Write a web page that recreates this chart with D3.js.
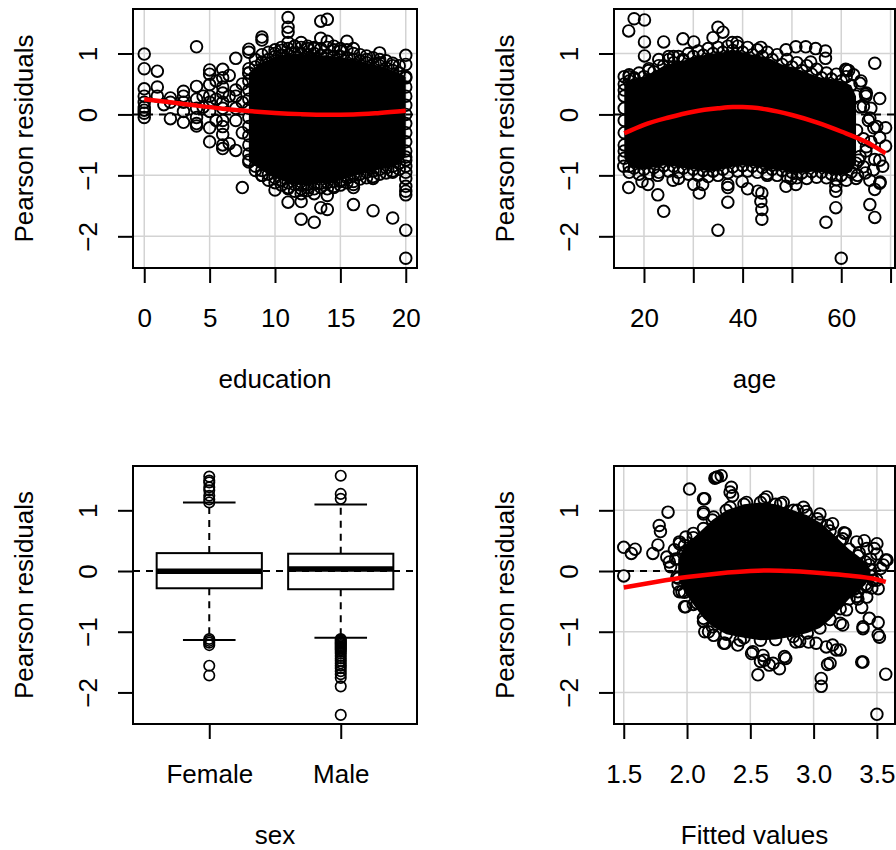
<!DOCTYPE html>
<html>
<head>
<meta charset="utf-8">
<script src="https://cdn.jsdelivr.net/npm/d3@7"></script>
<style>
  html, body { margin: 0; padding: 0; background: #fff; }
  svg text { font-family: "Liberation Sans", Arial, Helvetica, sans-serif; font-size: 26px; fill: #000; }
</style>
</head>
<body>
<svg id="chart" width="896" height="850"></svg>
<script>
// ---- data ----
const resTicks = [-2, -1, 0, 1];

// education panel
const eduTicks = [0, 5, 10, 15, 20];
const eduPoints = [
  [0,0.99],[0,0.75],[0,0.42],[0,0.3],[0,0.2],[0,0.12],[0,0.07],[0,0.02],[0,-0.05],
  [1,0.71],[1,0.45],[1,0.3],[1.5,0.16],
  [2,0.27],[2,0.2],[2,-0.07],
  [3,0.38],[3,0.3],[3,0.2],[3,0.05],[3,-0.13],
  [4,1.11],[4,0.46],[4,0.25],[4,0.1],[4,-0.05],[4,-0.15],[4,-0.19],
  [4.5,0.3],[4.5,0.12],
  [5,0.73],[5,0.66],[5,0.49],[5,0.3],[5,0.2],[5,0.05],[5,-0.22],[5,-0.45],
  [5.5,0.55],[5.5,0.25],[5.5,-0.1],
  [6,0.74],[6,0.6],[6,0.45],[6,0.35],[6,0.2],[6,0.1],[6,-0.1],[6,-0.2],[6,-0.33],[6,-0.5],[6,-0.56],
  [6.5,0.64],[6.5,0.3],[6.5,-0.48],
  [7,0.92],[7,0.4],[7,0.3],[7,0.1],[7,-0.1],[7,-0.59],
  [7.5,-1.2],[7.5,0.5],[7.5,0.2],[7.5,-0.3],
  [8,1.07],[8,1.02],[8,0.75],[8,0.68],[8,0.55],[8,0.4],[8,0.25],[8,0.1],[8,-0.05],[8,-0.2],[8,-0.35],[8,-0.5],[8,-0.65],[8,-0.75],
  [9,1.27],[9,1.22],[9,0.85],[9,-1.0],
  [10,1.0],[10,-1.24],[10.5,1.05],
  [11,1.59],[11,1.43],[11,1.35],[11,1.18],[11,-1.44],[11,-1.2],[11.5,1.12],
  [12,1.18],[12,-1.43],[12,-1.72],[12,-1.3],[12.5,1.08],[12.5,-1.25],
  [13,-1.77],[13,-1.3],[13,1.08],
  [13.5,1.25],[13.5,1.53],[13.5,-1.53],
  [14,1.56],[14,1.2],[14,-1.56],[14,-1.33],
  [14.5,-1.2],[14.5,1.12],[15,1.08],[15,-1.1],[15.5,1.2],
  [16,1.08],[16,-1.48],[16,-1.15],[16,-1.2],[17,0.9],[17.5,-1.58],[17.5,-1.05],
  [18,1.01],[18,0.85],[19,-1.7],[19,-0.95],[19,0.8],
  [20,0.97],[20,0.82],[20,0.6],[20,0.45],[20,0.3],[20,0.15],[20,0],[20,-0.15],[20,-0.3],[20,-0.45],
  [20,-0.6],[20,-0.75],[20,-0.85],[20,-0.95],[20,-1.05],[20,-1.18],[20,-1.26],[20,-1.32],[20,-1.9],[20,-2.36]
];
// rings along the rim of the overplotted cloud
const eduFringe = [
  [8.5,0.9],[9,0.98],[9.5,1.02],[10,1.06],[10.5,1.1],[11,1.08],[11.5,1.12],[12,1.1],[12.5,1.12],[13,1.1],
  [13.5,1.08],[14,1.1],[14.5,1.06],[15,1.04],[15.5,1.06],[16,1.0],[16.5,0.98],[17,0.96],[17.5,0.93],[18,0.9],
  [18.5,0.88],[19,0.84],[19.5,0.8],
  [8.5,-0.92],[9,-1.0],[9.5,-1.08],[10,-1.12],[10.5,-1.16],[11,-1.22],[11.5,-1.26],[12,-1.22],[12.5,-1.2],
  [13,-1.22],[13.5,-1.2],[14,-1.22],[14.5,-1.18],[15,-1.16],[15.5,-1.12],[16,-1.1],[16.5,-1.06],[17,-1.04],
  [17.5,-1.02],[18,-0.98],[18.5,-0.96],[19,-0.93],[19.5,-0.9]
];
// overplotted (solid) part of the cloud: x, upper and lower edge
const eduCoreX = [8, 8.5, 9, 9.5, 10, 10.5, 11, 11.5, 12, 12.5, 13, 13.5, 14, 14.5, 15, 15.5, 16, 16.5, 17, 17.5, 18, 18.5, 19, 19.5, 20];
const eduCoreTop = [0.68, 0.78, 0.86, 0.9, 0.95, 0.97, 0.98, 1.0, 1.0, 0.98, 1.0, 0.97, 0.97, 0.95, 0.95, 0.92, 0.9, 0.88, 0.85, 0.82, 0.8, 0.76, 0.72, 0.68, 0.62];
const eduCoreBottom = [-0.78, -0.85, -0.92, -0.98, -1.04, -1.08, -1.12, -1.15, -1.16, -1.15, -1.14, -1.13, -1.12, -1.1, -1.08, -1.04, -1.0, -0.98, -0.95, -0.93, -0.9, -0.88, -0.85, -0.8, -0.7];
const eduFitX = [0, 2, 4, 6, 8, 10, 12, 14, 16, 18, 20];
const eduFitY = [0.25, 0.2, 0.145, 0.095, 0.055, 0.025, 0.005, -0.005, 0.0, 0.025, 0.06];

// age panel
const ageTicks = [20, 30, 40, 50, 60, 70];
const agePoints = [
  [18.0,1.57],[20.1,1.55],[16.9,1.37],[20.1,1.19],[20.1,0.96],[24.0,1.19],[27.9,1.24],[30.1,1.19],
  [34.0,1.26],[35.0,1.43],[36.0,1.35],[37.9,1.18],[38.9,1.18],[43.7,1.10],[48.8,1.06],[50.8,1.11],
  [52.8,1.11],[54.8,1.08],[56.8,1.04],[56.8,0.92],[53.8,0.86],[60.9,0.74],[66.8,0.84],[64.9,0.33],
  [67.8,0.26],[63.9,0.12],[66.6,-0.22],[69.0,-0.22],[67.8,-0.38],[69.0,-0.52],[66.8,-0.74],[68.4,-0.85],
  [64.9,-0.96],[67.9,-1.11],[66.8,-1.23],[65.8,-1.48],[66.8,-1.69],[63.3,-1.0],[58.9,-1.18],[58.9,-1.26],
  [58.9,-1.53],[56.9,-1.77],[60.0,-2.36],[48.8,-1.18],[50.8,-1.15],[49.8,-1.05],[43.9,-1.29],[43.7,-1.43],
  [43.9,-1.56],[43.9,-1.72],[43.1,-1.26],[41.0,-1.22],[39.9,-1.10],[45.0,-1.0],[37.0,-1.15],[37.0,-1.2],
  [37.0,-1.44],[35.0,-1.90],[31.9,-1.15],[31.2,-1.29],[30.1,-1.15],[24.0,-1.59],[22.8,-1.32],[22.8,-1.0],
  [20.8,-1.15],[16.9,-1.2],[15.9,-0.85],[19.6,-1.10],[25.9,-1.08],[27.0,-1.05],[27.9,0.9],
  [17,0.65],[18,0.6],[21,0.75],[23,0.9],[25,0.95],[26,0.95],[16,0.62],[16,0.4],[16,-0.6],
  [16,-0.5],[16,-0.3],[16,-0.1],[16,0.1],[16,0.3]
];
const ageFringe = [
  [17,0.62],[19,0.68],[21,0.72],[23,0.8],[25,0.9],[27,0.95],[29,1.0],[31,1.04],[33,1.08],[35,1.1],[37,1.12],
  [39,1.12],[41,1.1],[43,1.06],[45,1.02],[47,0.98],[49,0.9],[51,0.85],[53,0.8],[55,0.74],[57,0.68],[59,0.66],[61,0.62],
  [17,-0.95],[19,-0.98],[21,-0.97],[23,-0.95],[25,-0.93],[27,-0.95],[29,-0.98],[31,-1.0],[33,-1.02],[35,-1.0],
  [37,-0.96],[39,-0.93],[41,-0.93],[43,-0.95],[45,-0.97],[47,-1.0],[49,-1.02],[51,-1.04],[53,-1.05],[55,-1.03],
  [57,-1.04],[59,-1.07],[61,-1.08],[63,-1.05],
  [61.1,0.73],[63.8,0.51],[65.1,0.35],[64.5,0.13],[67.2,-0.2],[67.8,-0.75],[66.5,-0.91],[64.5,-0.86],
  [65.8,-1.08],[67.8,-1.13],[63.8,-0.69],[65.1,-0.53],[63.1,-0.26],[65.8,-0.06],[64,0.55],[65,0.3],
  [66,0.1],[65.5,-0.1],[64.5,-0.4],[65,-0.6],[66,-0.45],[63.5,-0.75],[62.5,0.65],[61.5,0.72]
];
const ageCoreX = [16, 17, 18, 20, 22, 24, 26, 28, 30, 32, 34, 36, 38, 40, 42, 44, 46, 48, 50, 52, 54, 56, 58, 60, 62, 63];
const ageCoreTop = [0.5, 0.55, 0.58, 0.62, 0.7, 0.8, 0.85, 0.88, 0.95, 0.97, 1.0, 1.02, 1.05, 1.02, 0.98, 0.95, 0.9, 0.82, 0.78, 0.72, 0.66, 0.6, 0.58, 0.55, 0.48, 0.3];
const ageCoreBottom = [-0.72, -0.85, -0.88, -0.9, -0.87, -0.84, -0.85, -0.88, -0.9, -0.92, -0.93, -0.9, -0.86, -0.84, -0.85, -0.87, -0.9, -0.92, -0.95, -0.96, -0.94, -0.95, -0.98, -1.0, -0.95, -0.8];
const ageFitX = [16, 20, 25, 30, 35, 38, 40, 45, 50, 55, 60, 65, 69];
const ageFitY = [-0.31, -0.17, -0.05, 0.045, 0.1, 0.12, 0.12, 0.08, -0.01, -0.13, -0.28, -0.45, -0.64];

// sex panel (boxplot)
const sexGroups = ["Female", "Male"];
const sexLower = [-1.138, -1.10];
const sexQ1 = [-0.284, -0.30];
const sexMedian = [-0.005, 0.033];
const sexQ3 = [0.295, 0.285];
const sexUpper = [1.128, 1.095];
const sexOutFemale = [1.555, 1.49, 1.46, 1.38, 1.33, 1.24, 1.18, 1.13, -1.12, -1.15, -1.18, -1.22, -1.56, -1.72];
const sexOutMale = [1.57, 1.27, 1.19, -1.12, -1.14, -1.16, -1.18, -1.2, -1.22, -1.24, -1.26, -1.28, -1.3, -1.33,
  -1.36, -1.4, -1.44, -1.48, -1.52, -1.56, -1.6, -1.65, -1.7, -1.76, -1.9, -2.37];

// fitted values panel
const fitTicks = [1.5, 2.0, 2.5, 3.0, 3.5];
const fitPoints = [
  [1.50,0.39],[1.50,-0.08],[1.56,0.29],[1.59,0.36],[1.73,0.29],[1.77,0.43],[1.78,0.75],[1.79,0.65],
  [1.85,0.97],[1.84,0.23],[1.86,0.15],[1.94,0.45],[1.96,-0.34],[1.99,-0.59],
  [2.02,1.35],[2.13,1.19],[2.13,0.94],[2.22,1.53],[2.24,1.55],[2.27,1.57],[2.35,1.38],[2.36,1.24],
  [2.14,-1.0],[2.21,-1.06],[2.30,-1.19],[2.40,-1.22],[2.51,-1.36],[2.60,-1.39],[2.61,-1.47],[2.65,-1.55],
  [2.73,-1.61],[2.78,-1.44],[2.56,-1.71],
  [2.86,-1.17],[2.96,-1.17],[3.06,-1.77],[3.06,-1.90],[3.11,-1.54],[3.15,-1.22],[3.21,-1.30],[3.23,-0.89],
  [3.23,0.53],[3.24,0.63],
  [3.38,-1.50],[3.39,-0.95],[3.44,-0.78],[3.51,-0.85],[3.52,-1.09],[3.57,-1.70],[3.50,-2.36],
  [3.40,0.50],[3.48,0.37],[3.57,0.18],[3.53,0.04],[3.51,-0.29],[3.42,-0.43],[3.35,-0.46],
  [2.87,1.0],[2.94,0.98],[3.03,0.86],[3.11,0.75],[2.61,1.18],[2.74,1.11],
  [3.45,0.2],[3.55,0.1],[3.47,-0.15],[3.36,0.3],[3.32,-0.3],[3.5,0.45]
];
const fitFringe = [
  [1.94,0.48],[1.99,0.56],[2.05,0.62],[1.87,0.07],[1.97,0.29],[1.91,0.2],[1.94,-0.34],[1.98,-0.59],
  [2.08,-0.53],[2.13,-0.83],[2.17,-1.0],[2.29,-1.19],[2.42,-1.14],[2.52,-1.33],[2.58,-1.49],[2.68,-1.52],
  [2.77,-1.41],[2.89,-1.16],[3.02,-1.19],[3.1,-1.25],[3.18,-1.3],[3.21,-0.86],[3.26,-0.64],[3.34,-0.42],
  [3.42,-0.26],[3.5,-0.15],[3.58,0.18],[3.5,0.28],[3.42,0.37],[3.34,0.48],[3.25,0.62],[3.15,0.78],
  [3.05,0.94],[2.92,1.05],[2.76,1.13],[2.63,1.22],[2.47,1.13],[2.34,1.05],[2.21,0.89],[2.13,0.97],
  [2.14,1.19],[2.34,1.3],[2.23,1.54],[3.39,-0.92],[3.51,-1.05],[3.13,-1.52],[3.39,-1.5],
  [1.9,0.35],[1.92,-0.1],[1.93,-0.22],[3.44,0.1],[3.46,-0.28],[3.38,-0.6]
];
const fitCoreX = [1.93, 1.98, 2.05, 2.13, 2.2, 2.31, 2.45, 2.58, 2.7, 2.84, 2.95, 3.05, 3.13, 3.21, 3.28, 3.35, 3.41, 3.45];
const fitCoreTop = [0.2, 0.42, 0.55, 0.7, 0.84, 1.0, 1.1, 1.13, 1.1, 1.0, 0.92, 0.8, 0.66, 0.5, 0.36, 0.25, 0.15, 0.02];
const fitCoreBottom = [-0.12, -0.35, -0.55, -0.78, -0.92, -1.04, -1.1, -1.14, -1.13, -1.08, -1.02, -0.94, -0.8, -0.62, -0.46, -0.34, -0.22, -0.08];
const fitFitX = [1.5, 1.75, 2.0, 2.25, 2.5, 2.65, 2.8, 3.0, 3.25, 3.5, 3.57];
const fitFitY = [-0.27, -0.18, -0.1, -0.04, 0.0, 0.01, 0.0, -0.025, -0.07, -0.14, -0.18];

// ---- layout ----
const resDomain = [-2.52, 1.73];
const boxes = {
  edu: {x0: 133, x1: 417, y0: 9, y1: 268},
  age: {x0: 614, x1: 895, y0: 9, y1: 268},
  sex: {x0: 133, x1: 417, y0: 466, y1: 724},
  fit: {x0: 614, x1: 895, y0: 466, y1: 724}
};
const R = 5.8, PT_W = 1.9, DASH = "7,6";

const svg = d3.select("#chart");
const fmtRes = v => (v < 0 ? "\u2212" + Math.abs(v) : String(v));

function frame(id, box, xDomain) {
  const x = d3.scaleLinear().domain(xDomain).range([box.x0, box.x1]);
  const y = d3.scaleLinear().domain(resDomain).range([box.y1, box.y0]);
  const g = svg.append("g").attr("id", id);
  g.append("clipPath").attr("id", id + "-clip")
    .append("rect")
    .attr("x", box.x0).attr("y", box.y0)
    .attr("width", box.x1 - box.x0).attr("height", box.y1 - box.y0);
  const plot = g.append("g").attr("clip-path", `url(#${id}-clip)`);
  return {x, y, g, plot, box};
}

function grid(p, xTicks) {
  const gr = p.plot.append("g").attr("stroke", "#d3d3d3").attr("stroke-width", 1.5);
  gr.selectAll("line.v").data(xTicks).join("line").attr("class", "v")
    .attr("x1", d => p.x(d)).attr("x2", d => p.x(d))
    .attr("y1", p.box.y0).attr("y2", p.box.y1);
  gr.selectAll("line.h").data(resTicks).join("line").attr("class", "h")
    .attr("x1", p.box.x0).attr("x2", p.box.x1)
    .attr("y1", d => p.y(d)).attr("y2", d => p.y(d));
}

function axes(p, xTicks, xFmt, xTitle) {
  const box = p.box;
  const ax = p.g.append("g")
    .attr("transform", `translate(0,${box.y1})`)
    .call(d3.axisBottom(p.x).tickValues(xTicks).tickFormat(xFmt).tickSize(15).tickSizeOuter(0));
  ax.select(".domain").remove();
  ax.selectAll("line").attr("stroke", "#000").attr("stroke-width", 2);
  ax.selectAll("text").attr("y", 58.5).attr("dy", null);

  const ay = p.g.append("g")
    .attr("transform", `translate(${box.x0},0)`)
    .call(d3.axisLeft(p.y).tickValues(resTicks).tickFormat(fmtRes).tickSize(15).tickSizeOuter(0));
  ay.select(".domain").remove();
  ay.selectAll("line").attr("stroke", "#000").attr("stroke-width", 2);
  ay.selectAll("text")
    .attr("x", null).attr("dy", null)
    .attr("text-anchor", "middle")
    .attr("transform", "translate(-36,0) rotate(-90)");

  p.g.append("text")
    .attr("x", (box.x0 + box.x1) / 2).attr("y", box.y1 + 120)
    .attr("text-anchor", "middle")
    .text(xTitle);
  p.g.append("text")
    .attr("transform", `translate(${box.x0 - 100},${(box.y0 + box.y1) / 2}) rotate(-90)`)
    .attr("text-anchor", "middle")
    .text("Pearson residuals");

  p.g.append("rect")
    .attr("x", box.x0).attr("y", box.y0)
    .attr("width", box.x1 - box.x0).attr("height", box.y1 - box.y0)
    .attr("fill", "none").attr("stroke", "#000").attr("stroke-width", 2);
}

function zeroLine(p) {
  p.plot.append("line")
    .attr("x1", p.box.x0).attr("x2", p.box.x1)
    .attr("y1", p.y(0)).attr("y2", p.y(0))
    .attr("stroke", "#000").attr("stroke-width", 2)
    .attr("stroke-dasharray", DASH);
}

function scatterPanel(id, xDomain, xTicks, xFmt, xTitle, pts, coreX, coreTop, coreBottom, fitX, fitY) {
  const p = frame(id, boxes[id], xDomain);
  grid(p, xTicks);

  const core = coreX.map((v, i) => ({x: v, top: coreTop[i], bottom: coreBottom[i]}));
  p.plot.append("path")
    .datum(core)
    .attr("d", d3.area().x(d => p.x(d.x)).y0(d => p.y(d.bottom)).y1(d => p.y(d.top)))
    .attr("fill", "#000");

  const rings = core.flatMap(d => [[d.x, d.top], [d.x, d.bottom]]).concat(pts);
  p.plot.append("g")
    .attr("fill", "none").attr("stroke", "#000").attr("stroke-width", PT_W)
    .selectAll("circle").data(rings).join("circle")
    .attr("cx", d => p.x(d[0])).attr("cy", d => p.y(d[1])).attr("r", R);

  zeroLine(p);

  const fit = fitX.map((v, i) => [v, fitY[i]]);
  p.plot.append("path")
    .datum(fit)
    .attr("d", d3.line().curve(d3.curveMonotoneX).x(d => p.x(d[0])).y(d => p.y(d[1])))
    .attr("fill", "none").attr("stroke", "#ff0000").attr("stroke-width", 4.5);

  axes(p, xTicks, xFmt, xTitle);
}

scatterPanel("edu", [-0.86, 20.86], eduTicks, d => d, "education",
  eduPoints.concat(eduFringe), eduCoreX, eduCoreTop, eduCoreBottom, eduFitX, eduFitY);

scatterPanel("age", [13.92, 70.9], ageTicks, d => (d % 20 === 0 ? d : ""), "age",
  agePoints.concat(ageFringe), ageCoreX, ageCoreTop, ageCoreBottom, ageFitX, ageFitY);

scatterPanel("fit", [1.423, 3.643], fitTicks, d3.format(".1f"), "Fitted values",
  fitPoints.concat(fitFringe), fitCoreX, fitCoreTop, fitCoreBottom, fitFitX, fitFitY);

// boxplot of residuals by sex
(function () {
  const p = frame("sex", boxes.sex, [0.42, 2.58]);
  const bw = 0.4, sw = 0.2;
  const groups = sexGroups.map((name, i) => ({
    pos: i + 1, lower: sexLower[i], q1: sexQ1[i], median: sexMedian[i], q3: sexQ3[i], upper: sexUpper[i],
    out: i === 0 ? sexOutFemale : sexOutMale
  }));
  const bg = p.plot.append("g").attr("stroke", "#000").attr("stroke-width", 2);
  groups.forEach(d => {
    const cx = p.x(d.pos);
    bg.append("line").attr("x1", cx).attr("x2", cx).attr("y1", p.y(d.q3)).attr("y2", p.y(d.upper))
      .attr("stroke-dasharray", DASH);
    bg.append("line").attr("x1", cx).attr("x2", cx).attr("y1", p.y(d.q1)).attr("y2", p.y(d.lower))
      .attr("stroke-dasharray", DASH);
    [d.upper, d.lower].forEach(v => {
      bg.append("line").attr("x1", p.x(d.pos - sw)).attr("x2", p.x(d.pos + sw))
        .attr("y1", p.y(v)).attr("y2", p.y(v));
    });
    bg.append("rect")
      .attr("x", p.x(d.pos - bw)).attr("width", p.x(d.pos + bw) - p.x(d.pos - bw))
      .attr("y", p.y(d.q3)).attr("height", p.y(d.q1) - p.y(d.q3))
      .attr("fill", "#fff");
    bg.append("line").attr("x1", p.x(d.pos - bw)).attr("x2", p.x(d.pos + bw))
      .attr("y1", p.y(d.median)).attr("y2", p.y(d.median)).attr("stroke-width", 5.5);
    bg.append("g").attr("fill", "none").attr("stroke-width", 1.7)
      .selectAll("circle").data(d.out).join("circle")
      .attr("cx", cx).attr("cy", v => p.y(v)).attr("r", 5.2);
  });
  zeroLine(p);
  axes(p, [1, 2], i => sexGroups[i - 1], "sex");
})();
</script>
</body>
</html>
